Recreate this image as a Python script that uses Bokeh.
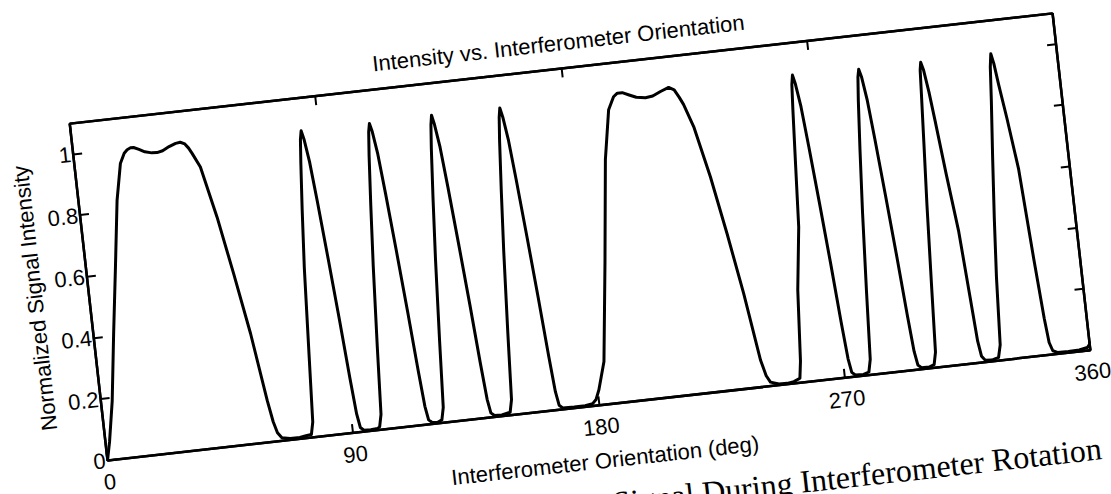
from bokeh.plotting import figure
from bokeh.models import Range1d, FixedTicker, LinearAxis, Title, GlobalInlineStyleSheet
from bokeh.embed import file_html
from bokeh.resources import INLINE

# ---------------- data ----------------
title_text = "Intensity vs. Interferometer Orientation"
x_label = "Interferometer Orientation (deg)"
y_label = "Normalized Signal Intensity"
caption_text = "Signal During Interferometer Rotation"

x_ticks = [0, 90, 180, 270, 360]
x_tick_labels = ["0", "90", "180", "270", "360"]
y_ticks = [0, 0.2, 0.4, 0.6, 0.8, 1.0]
y_tick_labels = ["0", "0.2", "0.4", "0.6", "0.8", "1"]

orientation_deg = [
    0.0, 1.5, 4.1, 7.4, 10.7, 14.0, 16.7, 18.5, 19.7, 21.0,
    22.1, 24.0, 26.0, 28.5, 30.4, 32.5, 35.0, 37.5, 39.2, 40.8,
    42.0, 43.1, 45.5, 49.5, 53.2, 56.9, 60.2, 61.5, 62.6, 64.0,
    67.0, 70.5, 72.8,
    74.8, 75.8, 77.2, 79.0, 80.6, 82.0, 82.8, 83.4, 84.1, 85.2,
    86.4, 88.0, 89.6, 91.0, 92.0, 92.8, 94.0, 96.5, 99.0,
    99.8, 100.8, 102.2, 104.0, 105.6, 107.0, 107.8, 108.4, 109.1, 110.2,
    111.4, 113.0, 114.6, 116.0, 117.0, 117.8, 119.0, 121.0,
    122.6, 123.6, 125.0, 126.8, 128.4, 129.8, 130.6, 131.2, 131.9, 133.0,
    134.2, 135.8, 137.4, 138.8, 139.8, 140.6, 141.8, 144.5,
    147.6, 148.6, 150.0, 151.8, 153.4, 154.8, 155.6, 156.2, 156.9, 158.0,
    159.2, 160.8, 162.4, 163.8, 164.8, 165.6, 166.8, 171.0, 175.0, 177.8,
    179.2, 180.6, 183.6, 188.0, 192.3, 195.5, 197.8, 199.3, 201.1, 203.5,
    206.0, 209.3, 212.0, 215.0, 218.1, 220.0, 221.5, 222.8, 225.6, 229.6,
    233.3, 236.9, 240.3, 241.7, 243.0, 246.0, 249.0, 251.5,
    253.8, 254.7, 256.6, 259.5, 261.0, 262.2, 262.8, 263.4, 264.1, 265.2,
    266.4, 268.0, 269.6, 271.0, 272.0, 272.8, 274.0, 277.0,
    279.0, 280.0, 281.4, 283.2, 284.8, 286.2, 287.0, 287.6, 288.3, 289.4,
    290.6, 292.2, 293.8, 295.2, 296.2, 297.0, 298.2, 301.0,
    302.9, 303.9, 305.2, 306.8, 308.2, 309.3, 309.8, 310.3, 311.0, 312.1,
    313.1, 315.0, 317.2, 318.6, 319.6, 320.4, 321.6, 324.0,
    326.5, 327.6, 329.0, 330.6, 332.4, 334.3, 335.3, 336.0, 336.7, 337.6,
    339.2, 341.4, 343.2, 344.6, 345.4, 346.4, 348.0, 352.0, 356.0, 359.0,
    360.0,
]

intensity = [
    0.0, 0.06, 0.19, 0.41, 0.62, 0.835, 0.953, 0.985, 0.995, 1.0,
    1.0, 0.992, 0.982, 0.976, 0.975, 0.979, 0.99, 0.998, 1.0, 0.993,
    0.978, 0.959, 0.913, 0.745, 0.557, 0.357, 0.136, 0.065, 0.028, 0.01,
    0.005, 0.005, 0.008,
    0.01, 0.05, 0.27, 0.55, 0.74, 0.89, 0.965, 0.993, 0.965, 0.89,
    0.76, 0.57, 0.37, 0.18, 0.06, 0.015, 0.005, 0.004, 0.006,
    0.01, 0.05, 0.27, 0.53, 0.73, 0.89, 0.965, 0.992, 0.965, 0.89,
    0.76, 0.57, 0.37, 0.18, 0.06, 0.015, 0.005, 0.004,
    0.01, 0.05, 0.27, 0.53, 0.73, 0.89, 0.965, 0.996, 0.965, 0.89,
    0.76, 0.57, 0.37, 0.18, 0.06, 0.015, 0.005, 0.004,
    0.01, 0.05, 0.27, 0.53, 0.73, 0.89, 0.965, 0.995, 0.965, 0.89,
    0.76, 0.57, 0.37, 0.18, 0.06, 0.015, 0.005, 0.004, 0.004, 0.008,
    0.02, 0.05, 0.14, 0.46, 0.79, 0.95, 0.99, 1.0, 1.0, 0.99,
    0.98, 0.975, 0.978, 0.99, 1.0, 0.99, 0.965, 0.94, 0.864, 0.696,
    0.508, 0.308, 0.087, 0.035, 0.013, 0.004, 0.003, 0.006,
    0.015, 0.07, 0.3, 0.503, 0.72, 0.89, 0.965, 0.995, 0.965, 0.89,
    0.76, 0.57, 0.37, 0.18, 0.06, 0.015, 0.005, 0.004,
    0.01, 0.05, 0.27, 0.53, 0.73, 0.89, 0.965, 0.99, 0.965, 0.89,
    0.76, 0.57, 0.37, 0.18, 0.06, 0.015, 0.005, 0.004,
    0.01, 0.05, 0.27, 0.53, 0.73, 0.89, 0.965, 0.99, 0.965, 0.89,
    0.8, 0.62, 0.43, 0.22, 0.07, 0.02, 0.006, 0.004,
    0.01, 0.05, 0.27, 0.46, 0.65, 0.84, 0.95, 0.992, 0.96, 0.89,
    0.78, 0.61, 0.32, 0.12, 0.04, 0.012, 0.005, 0.004, 0.005, 0.01,
    0.02,
]

# ---------------- figure ----------------
FONT = "Liberation Sans"
FS = "22px"

p = figure(
    frame_width=989, frame_height=339,
    x_range=Range1d(0, 360), y_range=Range1d(0, 1.1),
    output_backend="svg", toolbar_location=None,
    min_border_left=90, min_border_right=32,
    min_border_top=56, min_border_bottom=99,
    title=title_text,
)
p.background_fill_color = "white"
p.border_fill_color = "white"
p.outline_line_color = "black"
p.outline_line_width = 2.5
p.xgrid.visible = False
p.ygrid.visible = False

p.title.text_font = FONT
p.title.text_font_size = FS
p.title.text_font_style = "normal"
p.title.text_color = "black"
p.title.align = "center"
p.title.standoff = 26

def style_axis(ax, labels_visible):
    ax.axis_line_color = "black"
    ax.axis_line_width = 2.5
    ax.major_tick_line_color = "black"
    ax.major_tick_line_width = 2
    ax.major_tick_in = 9
    ax.major_tick_out = 0
    ax.minor_tick_line_color = None
    ax.major_label_text_font = FONT
    ax.major_label_text_color = "black"
    if labels_visible:
        ax.major_label_text_font_size = FS
    else:
        ax.major_label_text_font_size = "1px"
        ax.major_label_standoff = 0

xax = p.xaxis[0]
xax.ticker = FixedTicker(ticks=x_ticks)
xax.major_label_overrides = {t: s for t, s in zip(x_ticks, x_tick_labels)}
style_axis(xax, True)
xax.major_label_standoff = 14
xax.axis_label = x_label
xax.axis_label_text_font = FONT
xax.axis_label_text_font_size = FS
xax.axis_label_text_font_style = "normal"
xax.axis_label_text_color = "black"
xax.axis_label_standoff = 11

yax = p.yaxis[0]
yax.ticker = FixedTicker(ticks=y_ticks)
yax.major_label_overrides = {t: s for t, s in zip(y_ticks, y_tick_labels)}
style_axis(yax, True)
yax.major_label_standoff = 2
yax.axis_label = y_label
yax.axis_label_text_font = FONT
yax.axis_label_text_font_size = FS
yax.axis_label_text_font_style = "normal"
yax.axis_label_text_color = "black"
yax.axis_label_standoff = 6

top_ax = LinearAxis(ticker=FixedTicker(ticks=x_ticks),
                    major_label_overrides={t: "" for t in x_ticks})
style_axis(top_ax, False)
p.add_layout(top_ax, "above")

right_ax = LinearAxis(ticker=FixedTicker(ticks=y_ticks),
                      major_label_overrides={t: "" for t in y_ticks})
style_axis(right_ax, False)
p.add_layout(right_ax, "right")

p.line(orientation_deg, intensity, line_color="black", line_width=3,
       line_join="round", line_cap="round")

# caption of the scanned page, below the x-axis label (a side-panel title,
# so that it is not clipped to the plot frame)
caption = Title(text=caption_text, align="right", vertical_align="top",
                standoff=19, offset=0,
                text_font="Liberation Serif", text_font_size="32px",
                text_font_style="normal", text_color="black")
p.add_layout(caption, "below")

# the scanned page is tilted: rotate the whole figure about a fixed point
p.styles = {"transform": "rotate(-6.4deg)",
            "transform-origin": "680.4px 275.7px"}
p.stylesheets = [GlobalInlineStyleSheet(css="html, body { overflow: hidden; }")]

open("out.html", "w").write(file_html(p, INLINE))
